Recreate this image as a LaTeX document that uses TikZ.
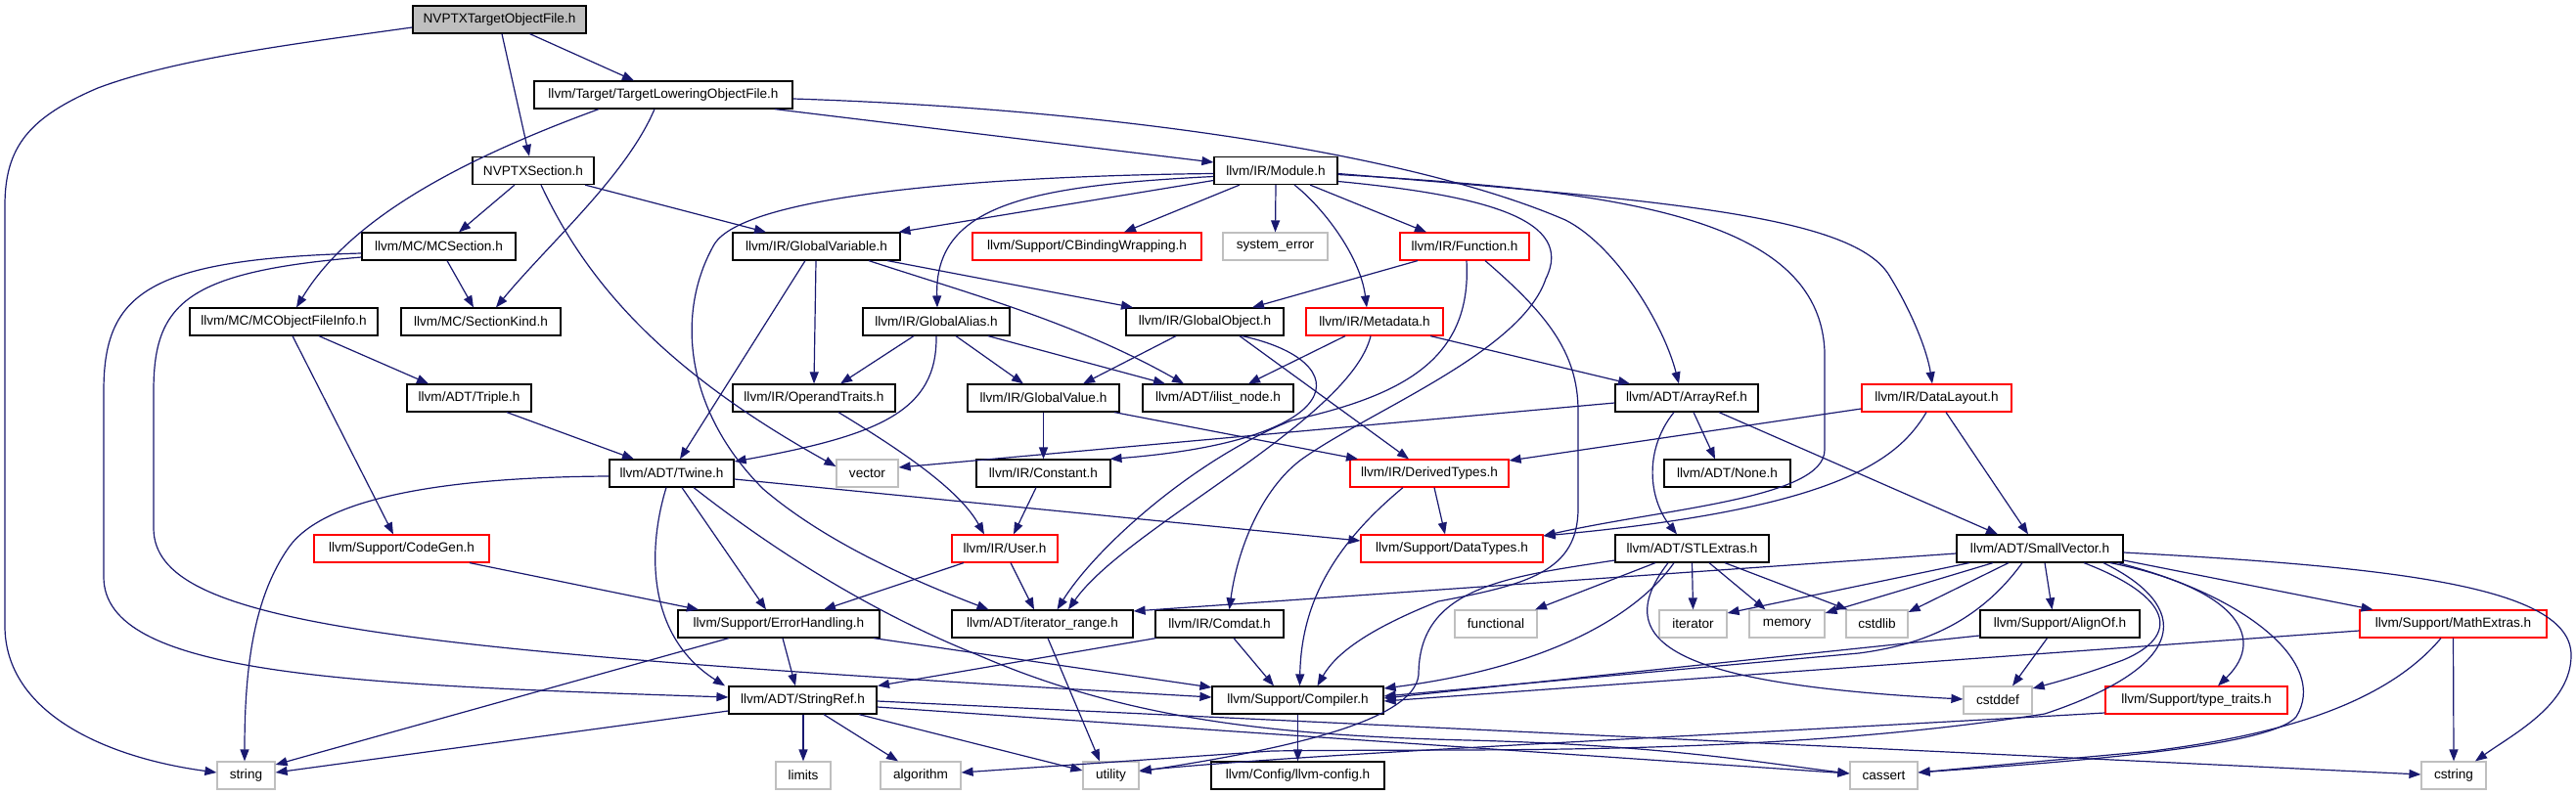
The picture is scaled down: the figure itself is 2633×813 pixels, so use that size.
\documentclass[tikz,border=0pt]{standalone}
\usepackage{fontspec}
\setmainfont{Liberation Sans}
\usetikzlibrary{arrows.meta}
\definecolor{edgec}{HTML}{191970}
\definecolor{grayb}{HTML}{BFBFBF}
\begin{document}
\begin{tikzpicture}[x=1pt,y=-1pt,
  box/.style={draw=black,line width=1.2pt,fill=white,minimum height=28pt,inner sep=0pt,
    font=\fontsize{13.6}{16}\selectfont,text=black},
  redbox/.style={box,draw=red},
  sysbox/.style={box,draw=grayb},
  rootbox/.style={box,fill=grayb},
  edg/.style={draw=edgec,line width=1.2pt,-{Triangle[length=12pt,width=9pt]}}]
\useasboundingbox (0,0) rectangle (2633,813);
\fill[white] (0,0) rectangle (2633,813);
% nodes
\node[rootbox,minimum width=177pt] (root) at (510.5,20) {NVPTXTargetObjectFile.h};
\node[box,minimum width=264pt] (tlof) at (678,97) {llvm/Target/TargetLoweringObjectFile.h};
\node[box,minimum width=124pt] (nsec) at (545,174.5) {NVPTXSection.h};
\node[box,minimum width=126pt] (module) at (1304,174.5) {llvm/IR/Module.h};
\node[box,minimum width=157pt] (mcsec) at (448.5,252) {llvm/MC/MCSection.h};
\node[box,minimum width=171pt] (gvar) at (834.5,252) {llvm/IR/GlobalVariable.h};
\node[redbox,minimum width=234pt] (cbind) at (1111,252) {llvm/Support/CBindingWrapping.h};
\node[sysbox,minimum width=107pt] (syserr) at (1303.5,252) {system\_error};
\node[redbox,minimum width=132pt] (func) at (1497,252) {llvm/IR/Function.h};
\node[box,minimum width=192pt] (mcofi) at (290,329) {llvm/MC/MCObjectFileInfo.h};
\node[box,minimum width=163pt] (skind) at (491.5,329) {llvm/MC/SectionKind.h};
\node[box,minimum width=150pt] (galias) at (957,329) {llvm/IR/GlobalAlias.h};
\node[box,minimum width=161pt] (gobj) at (1231.5,329) {llvm/IR/GlobalObject.h};
\node[redbox,minimum width=140pt] (meta) at (1405,329) {llvm/IR/Metadata.h};
\node[box,minimum width=127pt] (triple) at (479.5,407) {llvm/ADT/Triple.h};
\node[box,minimum width=166pt] (optr) at (832,407) {llvm/IR/OperandTraits.h};
\node[box,minimum width=155pt] (gval) at (1066.5,407) {llvm/IR/GlobalValue.h};
\node[box,minimum width=154pt] (ilist) at (1245,407) {llvm/ADT/ilist\_node.h};
\node[box,minimum width=146pt] (aref) at (1724,407) {llvm/ADT/ArrayRef.h};
\node[redbox,minimum width=153pt] (dlay) at (1979.5,407) {llvm/IR/DataLayout.h};
\node[box,minimum width=127pt] (twine) at (686.5,484) {llvm/ADT/Twine.h};
\node[sysbox,minimum width=63pt] (vector) at (886.5,484) {vector};
\node[box,minimum width=137pt] (const) at (1066.5,484) {llvm/IR/Constant.h};
\node[redbox,minimum width=162pt] (dtypes) at (1461,484) {llvm/IR/DerivedTypes.h};
\node[box,minimum width=129pt] (none) at (1765.5,484) {llvm/ADT/None.h};
\node[redbox,minimum width=179pt] (codegen) at (410.5,561) {llvm/Support/CodeGen.h};
\node[redbox,minimum width=108pt] (user) at (1027,561) {llvm/IR/User.h};
\node[redbox,minimum width=186pt] (datatypes) at (1484,561) {llvm/Support/DataTypes.h};
\node[box,minimum width=157pt] (stl) at (1729.5,561) {llvm/ADT/STLExtras.h};
\node[box,minimum width=170pt] (svec) at (2085,561) {llvm/ADT/SmallVector.h};
\node[box,minimum width=206pt] (errh) at (796,638) {llvm/Support/ErrorHandling.h};
\node[box,minimum width=185pt] (irange) at (1065.5,638) {llvm/ADT/iterator\_range.h};
\node[box,minimum width=131pt] (comdat) at (1246.5,638) {llvm/IR/Comdat.h};
\node[sysbox,minimum width=84pt] (functional) at (1529,638) {functional};
\node[sysbox,minimum width=69pt] (iterator) at (1730.5,638) {iterator};
\node[sysbox,minimum width=77pt] (memory) at (1826.5,638) {memory};
\node[sysbox,minimum width=63pt] (cstdlib) at (1918.5,638) {cstdlib};
\node[box,minimum width=163pt] (alignof) at (2105.5,638) {llvm/Support/AlignOf.h};
\node[redbox,minimum width=191pt] (mathx) at (2507.5,638) {llvm/Support/MathExtras.h};
\node[box,minimum width=151pt] (sref) at (820.5,716) {llvm/ADT/StringRef.h};
\node[box,minimum width=175pt] (compiler) at (1326.5,716) {llvm/Support/Compiler.h};
\node[sysbox,minimum width=70pt] (cstddef) at (2042,716) {cstddef};
\node[redbox,minimum width=186pt] (ttraits) at (2245,716) {llvm/Support/type\_traits.h};
\node[sysbox,minimum width=59pt] (string) at (251.5,793) {string};
\node[sysbox,minimum width=56pt] (limits) at (821,793) {limits};
\node[sysbox,minimum width=82pt] (algorithm) at (941,793) {algorithm};
\node[sysbox,minimum width=57pt] (utility) at (1135.5,793) {utility};
\node[box,minimum width=177pt] (config) at (1326.5,793) {llvm/Config/llvm-config.h};
\node[sysbox,minimum width=69pt] (cassert) at (1925.5,793) {cassert};
\node[sysbox,minimum width=66pt] (cstring) at (2508,793) {cstring};
% root
\draw[edg] ([yshift=-8]root.west) .. controls (300,45) and (180,60) .. (100,90) .. controls (30,120) and (5,150) .. (5,210) -- (5,640) .. controls (5,730) and (110,775) .. ([yshift=3]string.west);
\draw[edg] ([xshift=2.5]root.south) -- ([xshift=-4]nsec.north);
\draw[edg] ([xshift=31]root.south) -- ([xshift=-30]tlof.north);
% tlof
\draw[edg] ([xshift=-66]tlof.south) .. controls (480,160) and (360,220) .. ([xshift=13]mcofi.north);
\draw[edg] ([xshift=-9]tlof.south) .. controls (640,180) and (560,250) .. ([xshift=15.5]skind.north);
\draw[edg] ([xshift=114]tlof.south) -- ([yshift=8.5]module.west);
\draw[edg] ([yshift=-4]tlof.east) .. controls (1150,112) and (1450,160) .. (1600,225) .. controls (1650,250) and (1700,330) .. ([xshift=-8]aref.north);
% nsec
\draw[edg] ([xshift=-19]nsec.south) -- ([xshift=20.5]mcsec.north);
\draw[edg] ([xshift=53]nsec.south) -- ([xshift=-51.5]gvar.north);
\draw[edg] ([xshift=8]nsec.south) .. controls (600,290) and (680,380) .. ([yshift=7]vector.west);
% mcsec
\draw[edg] ([xshift=8.5]mcsec.south) -- ([xshift=-7.5]skind.north);
\draw[edg] ([yshift=-7]mcsec.west) .. controls (150,265) and (106,300) .. (106,400) -- (106,590) .. controls (106,690) and (350,700) .. ([yshift=3]sref.west);
\draw[edg] ([yshift=-11]mcsec.west) .. controls (190,278) and (157,310) .. (157,400) -- (157,540) .. controls (157,640) and (400,665) .. ([yshift=3]compiler.west);
% mcofi, triple
\draw[edg] ([xshift=36]mcofi.south) -- ([xshift=-41.5]triple.north);
\draw[edg] ([xshift=9]mcofi.south) -- ([xshift=-8.5]codegen.north);
\draw[edg] ([xshift=38.5]triple.south) -- ([xshift=-38.5]twine.north);
% twine
\draw[edg] ([yshift=-3]twine.west) .. controls (450,488) and (330,510) .. (295,560) .. controls (260,610) and (250,680) .. ([xshift=-1.5]string.north);
\draw[edg] ([xshift=10.5]twine.south) -- ([xshift=-13]errh.north);
\draw[edg] ([xshift=-5.5]twine.south) .. controls (662,560) and (660,650) .. ([xshift=-79.5]sref.north);
\draw[edg] ([yshift=-6]twine.east) -- ([yshift=8]datatypes.west);
\draw[edg] ([xshift=22.5]twine.south) .. controls (800,570) and (900,630) .. (1000,670) .. controls (1150,735) and (1300,752) .. (1500,757) .. controls (1700,762) and (1800,780) .. ([yshift=2]cassert.west);
% sref
\draw[edg] ([xshift=0.5]sref.south) -- (limits.north);
\draw[edg] ([xshift=21.5]sref.south) -- ([xshift=-23]algorithm.north);
\draw[edg] ([xshift=57.5]sref.south) -- ([yshift=5]utility.west);
\draw[edg] ([yshift=-7]sref.east) -- ([yshift=2]cassert.west);
\draw[edg] ([yshift=-1]sref.east) -- ([yshift=1]cstring.west);
\draw[edg] ([yshift=-11]sref.west) -- ([yshift=3]string.east);
% errh, codegen, comdat, compiler
\draw[edg] ([xshift=-51]errh.south) -- ([yshift=11]string.east);
\draw[edg] ([xshift=4]errh.south) -- ([xshift=-7.5]sref.north);
\draw[edg] ([xshift=97]errh.south) -- ([yshift=13]compiler.west);
\draw[edg] ([xshift=69.5]codegen.south) -- ([xshift=-82]errh.north);
\draw[edg] ([xshift=-65]comdat.south) -- ([xshift=76.5]sref.north);
\draw[edg] ([xshift=14.5]comdat.south) -- ([xshift=-24.5]compiler.north);
\draw[edg] (compiler.south) -- (config.north);
% irange, user, const, optr
\draw[edg] ([xshift=5.5]irange.south) -- ([xshift=-11.5]utility.north);
\draw[edg] ([xshift=-42]user.south) -- ([xshift=46]errh.north);
\draw[edg] ([xshift=6]user.south) -- ([xshift=-8.5]irange.north);
\draw[edg] ([xshift=-7.5]const.south) -- ([xshift=9]user.north);
\draw[edg] ([xshift=25]optr.south) .. controls (920,460) and (980,500) .. ([xshift=-21]user.north);
% gval, gobj
\draw[edg] (gval.south) -- (const.north);
\draw[edg] ([xshift=72.5]gval.south) -- ([xshift=-73]dtypes.north);
\draw[edg] ([xshift=-29.5]gobj.south) -- ([xshift=40.5]gval.north);
\draw[edg] ([xshift=35.5]gobj.south) -- ([xshift=-21]dtypes.north);
\draw[edg] ([xshift=38]gobj.south) .. controls (1390,370) and (1380,450) .. ([xshift=68]const.north);
% galias
\draw[edg] ([xshift=-23]galias.south) -- ([xshift=27]optr.north);
\draw[edg] ([xshift=20]galias.south) -- ([xshift=-20.5]gval.north);
\draw[edg] ([xshift=53]galias.south) -- ([xshift=-54]ilist.north);
\draw[edg] (galias.south) .. controls (958,420) and (900,445) .. ([yshift=12]twine.east);
% gvar
\draw[edg] ([xshift=-0.5]gvar.south) -- (optr.north);
\draw[edg] ([xshift=-11.5]gvar.south) -- ([xshift=8.5]twine.north);
\draw[edg] ([xshift=72.5]gvar.south) -- ([xshift=-73.5]gobj.north);
\draw[edg] ([xshift=53.5]gvar.south) .. controls (990,300) and (1100,330) .. ([xshift=-35]ilist.north);
% meta
\draw[edg] ([xshift=-30]meta.south) -- ([xshift=31]ilist.north);
\draw[edg] ([xshift=57]meta.south) -- ([xshift=-58]aref.north);
\draw[edg] ([xshift=-4]meta.south) .. controls (1380,430) and (1150,540) .. ([xshift=26.5]irange.north);
% func
\draw[edg] ([xshift=-48]func.south) -- ([xshift=48.5]gobj.north);
\draw[edg] ([xshift=2]func.south) .. controls (1505,370) and (1430,405) .. (1320,430) .. controls (1220,470) and (1120,560) .. ([xshift=15]irange.north);
\draw[edg] ([xshift=21]func.south) .. controls (1580,320) and (1613,360) .. (1613,420) -- (1613,520) .. controls (1613,585) and (1560,598) .. (1470,615) .. controls (1420,635) and (1370,660) .. ([xshift=20]compiler.north);
% stl
\draw[edg] ([yshift=-12]stl.west) .. controls (1540,590) and (1450,600) .. (1450,690) .. controls (1445,740) and (1300,768) .. ([yshift=4]utility.east);
\draw[edg] ([xshift=-18.5]stl.south) .. controls (1680,620) and (1600,680) .. ([yshift=12]compiler.east);
\draw[edg] ([xshift=-37.5]stl.south) -- ([xshift=40]functional.north);
\draw[edg] (stl.south) -- (iterator.north);
\draw[edg] ([xshift=17.5]stl.south) -- ([xshift=-22]memory.north);
\draw[edg] ([xshift=33.5]stl.south) -- ([xshift=-30]cstdlib.north);
\draw[edg] ([xshift=-24.5]stl.south) .. controls (1640,660) and (1720,700) .. ([yshift=1]cstddef.west);
% aref
\draw[edg] ([yshift=-5]aref.west) -- ([yshift=6]vector.east);
\draw[edg] ([xshift=7]aref.south) -- ([xshift=-12.5]none.north);
\draw[edg] ([xshift=-13]aref.south) .. controls (1680,460) and (1685,510) .. ([xshift=-15.5]stl.north);
\draw[edg] ([xshift=33]aref.south) -- ([xshift=-43]svec.north);
% dlay
\draw[edg] ([xshift=9.5]dlay.south) -- ([xshift=-12]svec.north);
\draw[edg] ([xshift=-10.5]dlay.south) .. controls (1940,470) and (1880,520) .. ([yshift=13]datatypes.east);
\draw[edg] ([yshift=-11]dlay.west) -- ([yshift=13]dtypes.east);
% dtypes
\draw[edg] ([xshift=5]dtypes.south) -- ([xshift=-7]datatypes.north);
\draw[edg] ([xshift=-27]dtypes.south) .. controls (1360,560) and (1330,620) .. ([xshift=2]compiler.north);
% module
\draw[edg] ([yshift=-10]module.west) -- ([xshift=84]gvar.north);
\draw[edg] ([xshift=-37]module.south) -- ([xshift=38]cbind.north);
\draw[edg] (module.south) -- (syserr.north);
\draw[edg] ([xshift=35]module.south) -- ([xshift=-39]func.north);
\draw[edg] ([xshift=19]module.south) .. controls (1350,210) and (1390,260) .. ([xshift=-8]meta.north);
\draw[edg] ([yshift=-6]module.west) .. controls (1050,190) and (955,210) .. ([xshift=1]galias.north);
\draw[edg] ([yshift=-3]module.west) .. controls (1000,180) and (760,200) .. (730,250) .. controls (690,320) and (700,420) .. (780,500) .. controls (850,560) and (950,600) .. ([xshift=-55]irange.north);
\draw[edg] ([yshift=-11]module.east) .. controls (1520,200) and (1610,225) .. (1580,285) .. controls (1555,360) and (1400,420) .. (1330,470) .. controls (1290,500) and (1265,560) .. ([xshift=10]comdat.north);
\draw[edg] ([yshift=-4]module.east) .. controls (1650,195) and (1860,220) .. (1865,360) -- (1865,460) .. controls (1865,510) and (1700,520) .. ([yshift=13]datatypes.east);
\draw[edg] ([yshift=-3]module.east) .. controls (1700,205) and (1890,220) .. (1930,280) .. controls (1955,320) and (1970,360) .. ([xshift=-4.5]dlay.north);
% svec
\draw[edg] ([yshift=-5]svec.west) -- ([yshift=13]irange.east);
\draw[edg] ([xshift=-72]svec.south) -- ([yshift=11]iterator.east);
\draw[edg] ([xshift=-48]svec.south) -- ([yshift=11]memory.east);
\draw[edg] ([xshift=-32]svec.south) -- ([yshift=12]cstdlib.east);
\draw[edg] ([xshift=-18]svec.south) .. controls (2020,640) and (1960,660) .. (1900,668) -- ([yshift=4]compiler.east);
\draw[edg] ([xshift=5]svec.south) -- ([xshift=-8]alignof.north);
\draw[edg] ([xshift=45]svec.south) .. controls (2220,610) and (2230,650) .. (2170,675) .. controls (2130,690) and (2100,698) .. ([yshift=12]cstddef.east);
\draw[edg] ([xshift=65]svec.south) .. controls (2240,620) and (2240,680) .. (2090,730) .. controls (1800,775) and (1500,765) .. (1300,768) -- ([yshift=3]algorithm.east);
\draw[edg] ([xshift=72]svec.south) .. controls (2280,600) and (2320,650) .. ([xshift=22]ttraits.north);
\draw[edg] ([xshift=80]svec.south) .. controls (2300,610) and (2380,680) .. (2347,733) .. controls (2320,765) and (2100,780) .. ([yshift=3]cassert.east);
\draw[edg] ([yshift=-12]svec.east) -- ([xshift=-82]mathx.north);
\draw[edg] ([yshift=-4]svec.east) .. controls (2450,580) and (2628,600) .. (2628,670) .. controls (2628,720) and (2570,750) .. ([xshift=22]cstring.north);
% alignof, mathx, ttraits
\draw[edg] ([xshift=-13]alignof.south) -- ([xshift=15]cstddef.north);
\draw[edg] ([yshift=-12]alignof.west) -- ([yshift=2]compiler.east);
\draw[edg] ([yshift=-7]mathx.west) -- ([yshift=-1]compiler.east);
\draw[edg] (mathx.south) -- (cstring.north);
\draw[edg] ([xshift=-12.5]mathx.south) .. controls (2430,730) and (2300,755) .. (2200,768) -- ([yshift=3]cassert.east);
\draw[edg] ([yshift=-13]ttraits.west) .. controls (1700,755) and (1350,770) .. ([yshift=5]utility.east);
\end{tikzpicture}
\end{document}
